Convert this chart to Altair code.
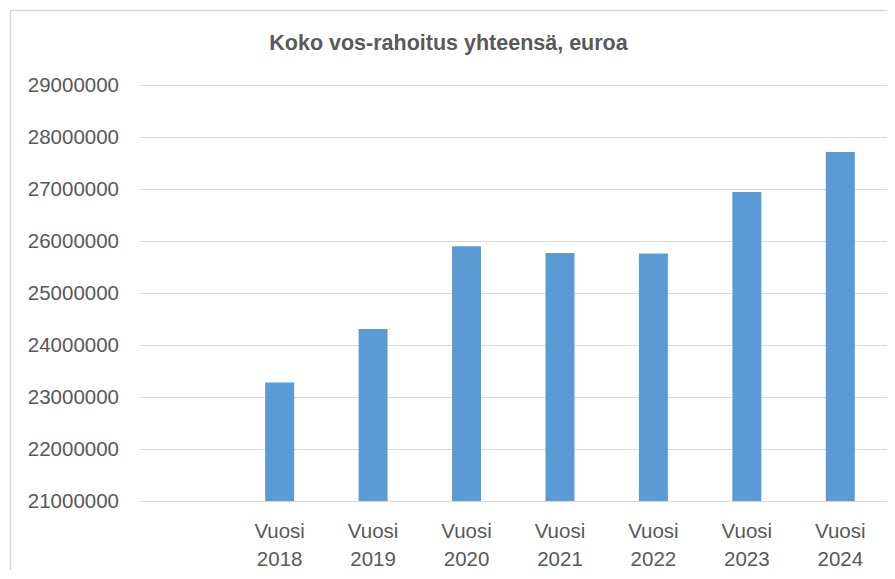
import altair as alt
import pandas as pd

# Data
categories = ["", "Vuosi 2018", "Vuosi 2019", "Vuosi 2020", "Vuosi 2021",
              "Vuosi 2022", "Vuosi 2023", "Vuosi 2024"]
bar_categories = ["Vuosi 2018", "Vuosi 2019", "Vuosi 2020", "Vuosi 2021",
                  "Vuosi 2022", "Vuosi 2023", "Vuosi 2024"]
values = [23280000, 24310000, 25900000, 25770000, 25760000, 26940000, 27710000]
y_ticks = [21000000, 22000000, 23000000, 24000000, 25000000, 26000000,
           27000000, 28000000, 29000000]
title_text = "Koko vos-rahoitus yhteensä, euroa"

df = pd.DataFrame({"cat": bar_categories, "val": values})

W = 747.5
H = 416
FONT = "Liberation Sans"
GREY = "#595959"

x_enc = alt.X(
    "cat:N",
    scale=alt.Scale(domain=categories, paddingInner=0.69, paddingOuter=0.345),
    sort=categories,
    axis=alt.Axis(
        title=None, labelAngle=0, ticks=False, domain=False,
        labelExpr="split(datum.label, ' ')",
        labelLineHeight=28, labelPadding=20, labelFontSize=20.5,
        labelColor=GREY, labelFont=FONT, grid=False,
    ),
)
y_enc = alt.Y(
    "val:Q",
    scale=alt.Scale(domain=[y_ticks[0], y_ticks[-1]], zero=False, nice=False),
    axis=alt.Axis(
        title=None, values=y_ticks, format="d", ticks=False, domain=False,
        labelPadding=21, labelFontSize=20.5, labelColor=GREY, labelFont=FONT,
        grid=True, gridColor="#D9D9D9", gridWidth=1,
    ),
)

bars = alt.Chart(df).mark_bar(color="#5B9BD5").encode(
    x=x_enc,
    y=y_enc,
    y2=alt.datum(y_ticks[0]),
)

deco = alt.Data(values=[{"t": title_text}])

border = alt.Chart(deco).mark_rect(
    fill="transparent", stroke="#D9D9D9", strokeWidth=1.5
).encode(
    x=alt.value(-129.0),
    y=alt.value(-74.5),
    x2=alt.value(W + 200),
    y2=alt.value(H + 200),
)

title = alt.Chart(deco).mark_text(
    font=FONT, fontSize=21.5, fontWeight="bold", color=GREY,
    align="center", baseline="alphabetic",
).encode(
    text="t:N",
    x=alt.value(309),
    y=alt.value(-35),
)

chart = alt.layer(border, bars, title).properties(
    width=W,
    height=H,
    autosize=alt.AutoSizeParams(type="none"),
    padding={"left": 131.5, "top": 77, "right": 0, "bottom": 69},
).configure_view(stroke=None)

chart.save("out.html", embed_options={"renderer": "svg", "actions": False})
